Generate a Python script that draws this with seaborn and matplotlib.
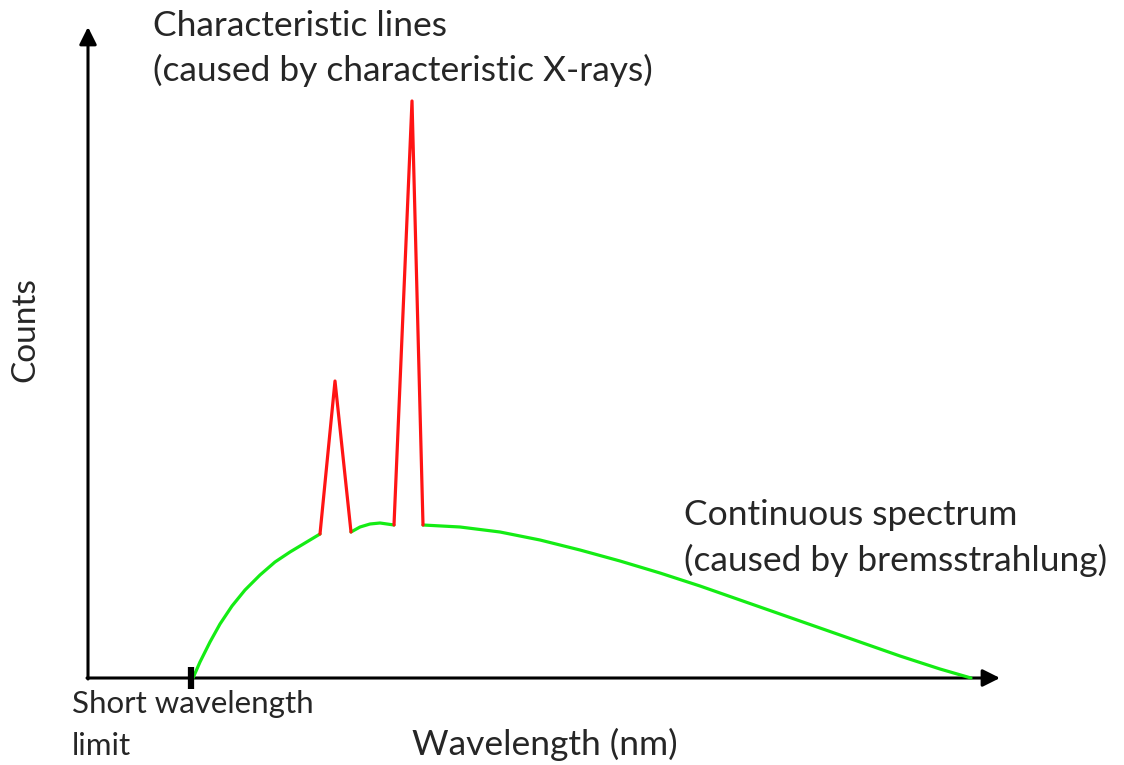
import matplotlib
matplotlib.use("Agg")
import matplotlib.pyplot as plt
import seaborn as sns
import pandas as pd

sns.set_theme(style="white")
plt.rcParams["font.family"] = ["Lato", "DejaVu Sans"]

# Continuous (bremsstrahlung) spectrum, split where the characteristic lines sit
brems_low_wl = [1.05, 1.12, 1.22, 1.32, 1.44, 1.57, 1.72, 1.87, 2.02, 2.17,
                2.32]
brems_low_ct = [0.00, 0.16, 0.36, 0.54, 0.72, 0.88, 1.03, 1.16, 1.26, 1.35,
                1.44]

brems_mid_wl = [2.63, 2.72, 2.82, 2.92, 3.06]
brems_mid_ct = [1.46, 1.51, 1.54, 1.55, 1.53]

brems_high_wl = [3.35, 3.72, 4.12, 4.52, 4.92, 5.32, 5.72, 6.12, 6.52, 6.92,
                 7.32, 7.72, 8.12, 8.52, 8.83]
brems_high_ct = [1.53, 1.51, 1.46, 1.38, 1.28, 1.17, 1.05, 0.92, 0.78, 0.64,
                 0.50, 0.36, 0.22, 0.09, 0.00]

# Characteristic lines (K-beta and K-alpha)
line_b_wl = [2.32, 2.47, 2.63]
line_b_ct = [1.44, 2.97, 1.46]

line_a_wl = [3.06, 3.24, 3.35]
line_a_ct = [1.53, 5.77, 1.53]

short_wl_limit = 1.03

green = "#14ec14"
red = "#ff1414"

fig = plt.figure(figsize=(11.24, 7.65), dpi=100)
ax = fig.add_axes([0, 0, 1, 1])
ax.set_xlim(-0.88, 10.36)
ax.set_ylim(-0.87, 6.78)
ax.axis("off")

for wl, ct, col in [
    (brems_low_wl, brems_low_ct, green),
    (brems_mid_wl, brems_mid_ct, green),
    (brems_high_wl, brems_high_ct, green),
    (line_b_wl, line_b_ct, red),
    (line_a_wl, line_a_ct, red),
]:
    df = pd.DataFrame({"wavelength": wl, "counts": ct})
    sns.lineplot(data=df, x="wavelength", y="counts", sort=False,
                 color=col, lw=2.3, ax=ax, zorder=3)

# Axes drawn as arrows
arrow = dict(arrowstyle="-|>", color="black", lw=2.2, mutation_scale=26,
             shrinkA=0, shrinkB=0)
ax.annotate("", xy=(9.12, 0), xytext=(-0.01, 0), arrowprops=arrow, zorder=2)
ax.annotate("", xy=(0, 6.51), xytext=(0, -0.01), arrowprops=arrow, zorder=2)

# Short wavelength limit marker
ax.plot([short_wl_limit], [0], marker="|", markersize=16, mew=4.5,
        color="black", zorder=4)

fs = 25.5
fs_small = 22.5
ax.text(0.65, 6.42, "Characteristic lines", fontsize=fs, va="baseline")
ax.text(0.65, 5.97, "(caused by characteristic X-rays)", fontsize=fs,
        va="baseline")
ax.text(5.96, 1.53, "Continuous spectrum", fontsize=fs, va="baseline")
ax.text(5.96, 1.07, "(caused by bremsstrahlung)", fontsize=fs, va="baseline")
ax.text(-0.16, -0.35, "Short wavelength", fontsize=fs_small, va="baseline")
ax.text(-0.16, -0.77, "limit", fontsize=fs_small, va="baseline")
ax.text(3.24, -0.77, "Wavelength (nm)", fontsize=fs, va="baseline")
ax.text(-0.63, 3.48, "Counts", fontsize=24, rotation=90,
        ha="center", va="center")

fig.savefig("out.png", dpi=100)
